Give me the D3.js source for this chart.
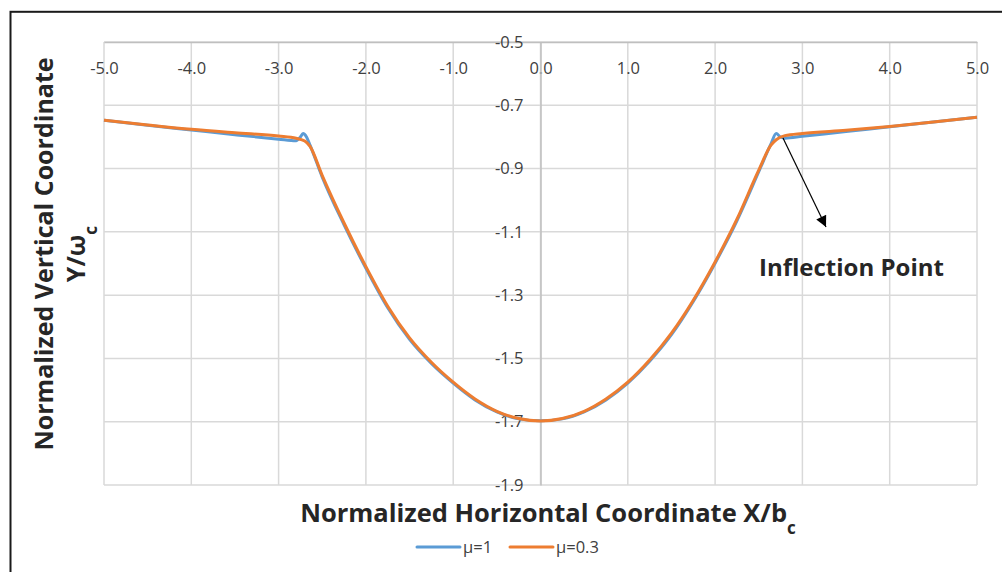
<!DOCTYPE html>
<html>
<head>
<meta charset="utf-8">
<script src="https://cdn.jsdelivr.net/npm/d3@7"></script>
<style>
  html, body { margin: 0; padding: 0; background: #fff; }
  svg { display: block; }
</style>
</head>
<body>
<svg id="chart" width="1002" height="572"></svg>
<script>
// ---- data ----
const xTicks = [-5, -4, -3, -2, -1, 0, 1, 2, 3, 4, 5];
const xTickLabels = ["-5.0", "-4.0", "-3.0", "-2.0", "-1.0", "0.0", "1.0", "2.0", "3.0", "4.0", "5.0"];
const yTicks = [-0.5, -0.7, -0.9, -1.1, -1.3, -1.5, -1.7, -1.9];
const yTickLabels = ["-0.5", "-0.7", "-0.9", "-1.1", "-1.3", "-1.5", "-1.7", "-1.9"];

const seriesNames = ["μ=1", "μ=0.3"];

const xMu1 = [-5, -4.5, -4, -3.5, -3, -2.8, -2.75, -2.72, -2.68, -2.64, -2.5, -2.25, -2, -1.75, -1.5, -1.25, -1, -0.75, -0.5, -0.25, 0,
              0.25, 0.5, 0.75, 1, 1.25, 1.5, 1.75, 2, 2.25, 2.5, 2.64, 2.7, 2.75, 2.8, 3, 3.5, 4, 4.5, 5];
const yMu1 = [-0.747, -0.763, -0.778, -0.793, -0.807, -0.812, -0.800, -0.789, -0.800, -0.826, -0.927, -1.078, -1.215, -1.340, -1.440, -1.516, -1.578, -1.631, -1.669, -1.691, -1.697,
              -1.691, -1.669, -1.631, -1.578, -1.509, -1.425, -1.320, -1.199, -1.065, -0.910, -0.822, -0.789, -0.801, -0.804, -0.798, -0.783, -0.768, -0.753, -0.738];

const xMu03 = [-5, -4.5, -4, -3.5, -3, -2.8, -2.7, -2.64, -2.5, -2.25, -2, -1.75, -1.5, -1.25, -1, -0.75, -0.5, -0.25, 0,
               0.25, 0.5, 0.75, 1, 1.25, 1.5, 1.75, 2, 2.25, 2.5, 2.64, 2.7, 2.8, 3, 3.5, 4, 4.5, 5];
const yMu03 = [-0.747, -0.762, -0.776, -0.787, -0.797, -0.804, -0.813, -0.830, -0.922, -1.072, -1.210, -1.335, -1.435, -1.512, -1.575, -1.628, -1.667, -1.690, -1.698,
               -1.690, -1.667, -1.628, -1.575, -1.505, -1.420, -1.316, -1.195, -1.060, -0.905, -0.826, -0.809, -0.796, -0.789, -0.779, -0.767, -0.753, -0.738];

// ---- chart ----
const svg = d3.select("#chart");
const FONT = "'Open Sans', 'Liberation Sans', sans-serif";
const x = d3.scaleLinear().domain([-5, 5]).range([104, 977]);
const y = d3.scaleLinear().domain([-0.5, -1.9]).range([42, 485]);

// outer frame
svg.append("rect").attr("x", 10.5).attr("y", 11.8).attr("width", 1010).attr("height", 600)
  .attr("fill", "none").attr("stroke", "#1a1a1a").attr("stroke-width", 2);

// gridlines
const grid = svg.append("g");
grid.selectAll("line.v").data(xTicks).join("line")
  .attr("x1", d => x(d)).attr("x2", d => x(d)).attr("y1", y(-0.5)).attr("y2", y(-1.9))
  .attr("stroke", "#d9d9d9").attr("stroke-width", 1.5);
grid.selectAll("line.h").data(yTicks).join("line")
  .attr("x1", x(-5)).attr("x2", x(5)).attr("y1", d => y(d)).attr("y2", d => y(d))
  .attr("stroke", "#d9d9d9").attr("stroke-width", 1.5);

// axes
const xAxis = d3.axisBottom(x).tickValues(xTicks).tickSize(0).tickPadding(20)
  .tickFormat((d, i) => xTickLabels[i]);
const gx = svg.append("g").attr("transform", `translate(0,${y(-0.5)})`).call(xAxis);
gx.select(".domain").attr("stroke", "#bfbfbf").attr("stroke-width", 1.5);
gx.selectAll("text").attr("font-family", FONT).attr("font-size", 16.5).attr("fill", "#404040");

const yAxis = d3.axisLeft(y).tickValues(yTicks).tickSize(0).tickPadding(17)
  .tickFormat((d, i) => yTickLabels[i]);
const gy = svg.append("g").attr("transform", `translate(${x(0)},0)`).call(yAxis);
gy.select(".domain").attr("stroke", "#bfbfbf").attr("stroke-width", 1.5);
gy.selectAll("text").attr("font-family", FONT).attr("font-size", 16.5).attr("fill", "#404040");

// lines
const line = d3.line().x(d => x(d[0])).y(d => y(d[1])).curve(d3.curveMonotoneX);
const s1 = xMu1.map((v, i) => [v, yMu1[i]]);
const s2 = xMu03.map((v, i) => [v, yMu03[i]]);
svg.append("path").datum(s1).attr("d", line).attr("fill", "none")
  .attr("stroke", "#5b9bd5").attr("stroke-width", 3).attr("stroke-linejoin", "round");
svg.append("path").datum(s2).attr("d", line).attr("fill", "none")
  .attr("stroke", "#ed7d31").attr("stroke-width", 3).attr("stroke-linejoin", "round");

// annotation arrow
const defs = svg.append("defs");
defs.append("marker").attr("id", "ah").attr("viewBox", "0 0 10 10").attr("refX", 10).attr("refY", 5)
  .attr("markerWidth", 13).attr("markerHeight", 11).attr("markerUnits", "userSpaceOnUse").attr("orient", "auto")
  .append("path").attr("d", "M0,0 L10,5 L0,10 Z").attr("fill", "#000");
svg.append("line").attr("x1", 783).attr("y1", 138).attr("x2", 826).attr("y2", 227)
  .attr("stroke", "#000").attr("stroke-width", 1.2).attr("marker-end", "url(#ah)");
svg.append("text").attr("x", 759).attr("y", 276).attr("font-family", FONT).attr("font-weight", "bold")
  .attr("font-size", 24).attr("fill", "#262626").text("Inflection Point");

// axis titles
const xt = svg.append("text").attr("x", 548).attr("y", 522).attr("text-anchor", "middle")
  .attr("font-family", FONT).attr("font-weight", "bold").attr("font-size", 25.5).attr("fill", "#262626");
xt.append("tspan").text("Normalized Horizontal Coordinate X/b");
xt.append("tspan").attr("baseline-shift", "sub").attr("font-size", 17).text("c");

const yt = svg.append("text").attr("transform", "translate(53,254) rotate(-90)").attr("text-anchor", "middle")
  .attr("font-family", FONT).attr("font-weight", "bold").attr("font-size", 25).attr("fill", "#262626");
yt.append("tspan").attr("x", 0).attr("y", 0).text("Normalized Vertical Coordinate");
const yt2 = svg.append("text").attr("transform", "translate(85,254) rotate(-90)").attr("text-anchor", "middle")
  .attr("font-family", FONT).attr("font-weight", "bold").attr("font-size", 25).attr("fill", "#262626");
yt2.append("tspan").text("Y/ω");
yt2.append("tspan").attr("baseline-shift", "sub").attr("font-size", 17).text("c");

// legend
const legend = svg.append("g").attr("font-family", FONT).attr("font-size", 16.5).attr("fill", "#404040");
const legItems = [{name: seriesNames[0], color: "#5b9bd5", x0: 417}, {name: seriesNames[1], color: "#ed7d31", x0: 510}];
legItems.forEach(it => {
  legend.append("line").attr("x1", it.x0).attr("x2", it.x0 + 43).attr("y1", 547).attr("y2", 547)
    .attr("stroke", it.color).attr("stroke-width", 3).attr("stroke-linecap", "round");
  legend.append("text").attr("x", it.x0 + 46).attr("y", 547).attr("dy", "0.35em").text(it.name);
});
</script>
</body>
</html>
